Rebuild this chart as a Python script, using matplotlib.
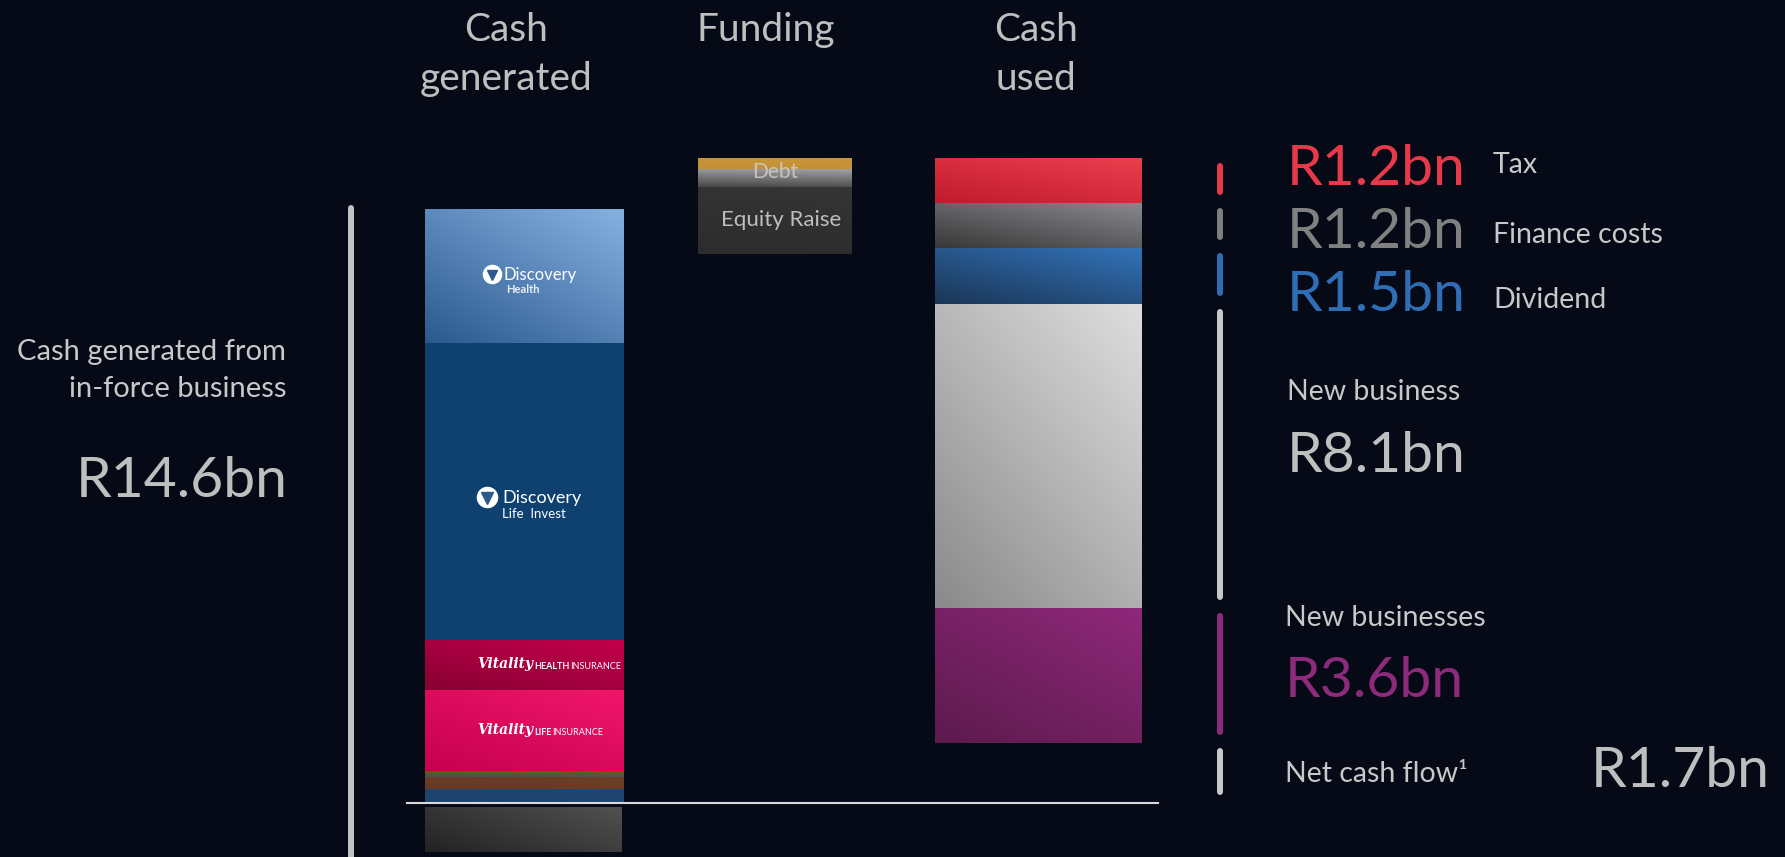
import numpy as np
import matplotlib.pyplot as plt
import matplotlib.colors as mcolors

W, H = 1785, 857
PX_PER_BN = 37.5
BASE_PX = 803

# cash generated, stacked from the baseline upwards (R bn)
gen_names = ["Other 1", "Other 2", "Other 3", "Other 4",
             "Vitality Life Insurance", "Vitality Health Insurance",
             "Discovery Life Invest", "Discovery Health"]
gen_values = [0.37, 0.32, 0.08, 0.08, 2.17, 1.34, 7.91, 3.56]
gen_negative = -1.2
inforce_label = "R14.6bn"

# funding, stacked on top of the net cash generated
funding_names = ["Equity Raise", "Debt (b)", "Debt (a)"]
funding_values = [1.79, 0.48, 0.30]

# cash used, from the top downwards
used_names = ["Tax", "Finance costs", "Dividend", "New business", "New businesses"]
used_values = [1.2, 1.2, 1.5, 8.1, 3.6]
used_labels = ["R1.2bn", "R1.2bn", "R1.5bn", "R8.1bn", "R3.6bn"]
net_name = "Net cash flow\u00b9"
net_label = "R1.7bn"

BG = "#050a16"
FONT = "Lato"

gen_colors = [("#1f4672", "#1d426c"), ("#6e3d26", "#683a24"), ("#555555", "#4e4e4e"),
              ("#6c5b1c", "#655518"), ("#f2166a", "#c5004e"), ("#c4004c", "#880032"),
              ("#0f4170", "#0f4170"), ("#85b0e2", "#2c5a8e")]
neg_colors = ("#505050", "#232323")
funding_colors = [("#353535", "#2c2c2c"), ("#a2a2a4", "#474747"), ("#c99538", "#c39036")]
used_colors = [("#eb3e4e", "#c01b2d"), ("#88898e", "#383838"), ("#3373ba", "#1a3656"),
               ("#dedede", "#8a8a8a"), ("#8f287a", "#5c1a4d")]
marker_colors = ["#e63a4a", "#7e7e7e", "#2f6db5", "#c8c8c8", "#8e2a7c", "#c8c8c8"]


def grad_bar(ax, x, w, bottom, height, light, dark, diag=0.45):
    bar = ax.bar(x, height, w, bottom=bottom, color=dark, linewidth=0, zorder=2)[0]
    if light != dark:
        u = np.linspace(0, 1, 64)
        X, Y = np.meshgrid(u, u)
        t = diag * X + (1 - diag) * Y
        c0 = np.array(mcolors.to_rgb(dark))
        c1 = np.array(mcolors.to_rgb(light))
        img = c0 + t[..., None] * (c1 - c0)
        y0, y1 = sorted([bottom, bottom + height])
        im = ax.imshow(img, extent=[x - w / 2, x + w / 2, y0, y1], origin="lower",
                       aspect="auto", interpolation="bilinear", zorder=3)
        im.set_clip_path(bar)
    return bar


def bn(ypix):
    return (BASE_PX - ypix) / PX_PER_BN


fig = plt.figure(figsize=(W / 100, H / 100), dpi=100)
fig.patch.set_facecolor(BG)
ax = fig.add_axes([0, 0, 1, 1])
ax.set_facecolor(BG)


def ftext(x, y, s, **kw):
    kw.setdefault("family", FONT)
    kw.setdefault("va", "baseline")
    return fig.text(x / W, 1 - y / H, s, **kw)


def after(prev, s, gap=1, **kw):
    # put a text right after another one, on the same baseline
    kw.setdefault("family", FONT)
    return ax.annotate(s, xy=(1, 0), xycoords=prev, xytext=(gap, 0),
                       textcoords="offset points", va="bottom", ha="left", **kw)


# cash generated bar
gx, gw = 524.5, 199
bottoms = np.concatenate([[0], np.cumsum(gen_values)[:-1]])
for v, b, (cl, cd) in zip(gen_values, bottoms, gen_colors):
    grad_bar(ax, gx, gw, b, v, cl, cd)
grad_bar(ax, gx - 1, gw - 2, -0.1, gen_negative, *neg_colors, diag=0.6)
gen_top = sum(gen_values)

# funding bar
fx, fw = 775, 154
f_bottom = gen_top + gen_negative
fb = f_bottom + np.concatenate([[0], np.cumsum(funding_values)[:-1]])
for v, b, (cl, cd) in zip(funding_values, fb, funding_colors):
    grad_bar(ax, fx, fw, b, v, cl, cd, diag=0.1)
f_top = f_bottom + sum(funding_values)

# cash used bar
ux, uw = 1038.5, 207
u_tops = f_top - np.concatenate([[0], np.cumsum(used_values)[:-1]])
for v, t, (cl, cd) in zip(used_values, u_tops, used_colors):
    grad_bar(ax, ux, uw, t - v, v, cl, cd)
u_bottom = f_top - sum(used_values)

# baseline
ax.plot([407, 1158], [0, 0], color="#d9d9d9", lw=1.5, zorder=6)

# bracket markers
ax.plot([351, 351], [gen_top + 0.05, -3], color="#c4c4c4", lw=4.3,
        solid_capstyle="round", zorder=4)
spans = [(t - v, t) for v, t in zip(used_values, u_tops)] + [(0, u_bottom)]
for (lo, hi), c in zip(spans, marker_colors):
    ax.plot([1220, 1220], [lo + 0.3, hi - 0.2], color=c, lw=4.3,
            solid_capstyle="round", zorder=4)

# logos inside the first bar
for xi, yi, r in [(492, 274, 9), (487, 497, 10)]:
    ax.plot(xi, bn(yi), "o", ms=r * 1.45, mfc="white", mec="white", zorder=7)
    ax.plot(xi, bn(yi) - 0.02, "v", ms=r * 0.8, mfc="#2c5a8e", mec="#2c5a8e", zorder=8)
ftext(503, 280, "Discovery", color="white", fontsize=12)
ftext(506, 293, "Health", color="#e8eef6", fontsize=8, fontweight="bold")
ftext(502, 503, "Discovery", color="white", fontsize=13)
ftext(502, 518, "Life  Invest", color="white", fontsize=9.5)
for yb, word in [(668, "HEALTH"), (734, "LIFE")]:
    v = ftext(477, yb, "Vitality", color="white", fontsize=10,
              fontweight="bold", fontstyle="italic", family="DejaVu Serif")
    w1 = after(v, word, gap=0.5, color="white", fontsize=6.5, fontweight="bold")
    after(w1, "INSURANCE", gap=1, color="white", fontsize=6.5)

# funding labels
ftext(775, 178, "Debt", color="#cfcfcf", fontsize=15, ha="center", alpha=0.85)
ftext(781, 226, "Equity Raise", color="#bdbdbd", fontsize=16, ha="center")

# column titles
tc = "#bfbfbf"
ftext(506, 41, "Cash", color=tc, fontsize=28, ha="center")
ftext(506, 90, "generated", color=tc, fontsize=28, ha="center")
ftext(766, 41, "Funding", color=tc, fontsize=28, ha="center")
ftext(1036, 41, "Cash", color=tc, fontsize=28, ha="center")
ftext(1036, 90, "used", color=tc, fontsize=28, ha="center")

# left annotation
lc = "#c8c8c8"
ftext(286, 360, "Cash generated from", color=lc, fontsize=21, ha="right")
ftext(286, 397, "in-force business", color=lc, fontsize=21, ha="right")
ftext(288, 497, inforce_label, color=tc, fontsize=41, ha="right")

# right annotations
big_colors = ["#e8394a", "#808080", "#2f6db5"]
big_base = [185, 248, 311]
small_base = [173, 243, 308]
for i in range(3):
    ftext(1287, big_base[i], used_labels[i], color=big_colors[i], fontsize=41)
    ftext(1493, small_base[i], used_names[i], color=lc, fontsize=20.5)
ftext(1287, 400, used_names[3], color=lc, fontsize=20.5)
ftext(1287, 472, used_labels[3], color=tc, fontsize=41)
ftext(1285, 626, used_names[4], color=lc, fontsize=20.5)
ftext(1285, 697, used_labels[4], color="#8e2a7c", fontsize=41)
ftext(1285, 782, net_name, color=lc, fontsize=20.5)
ftext(1770, 787, net_label, color=tc, fontsize=41, ha="right")

ax.set_xlim(0, W)
ax.set_ylim(bn(H), bn(0))
ax.axis("off")

plt.savefig("out.png", dpi=100, facecolor=BG)
